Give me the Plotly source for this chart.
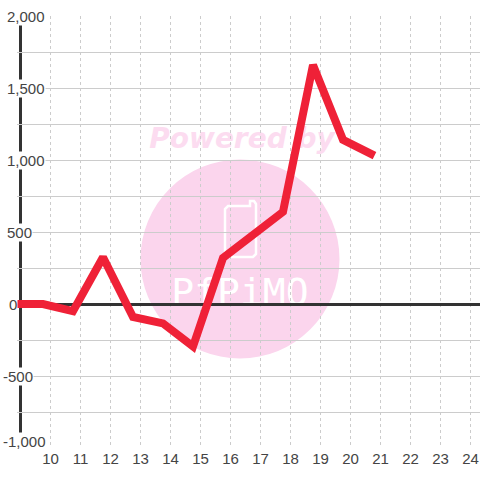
import plotly.graph_objects as go

hours = [8.75, 9.75, 10.75, 11.75, 12.75, 13.75, 14.75, 15.75, 16.75, 17.75, 18.75, 19.75, 20.8]
values = [0, 0, -50, 325, -90, -135, -295, 320, 480, 640, 1660, 1140, 1030]
x_ticks = list(range(10, 25))
y_ticks = [2000, 1500, 1000, 500, 0, -500, -1000]
y_labels = ["2,000", "1,500", "1,000", "500", "0", "-500", "-1,000"]
y_label_left = [5.5, 5.5, 5.5, 5.5, 7.5, 1.5, 1.5]
y_label_pos = [2000, 1500, 1000, 500, 0, -500, -955]

W, H = 480, 480
L, R, T, B = 17, 0, 16, 32
pw, ph = W - L - R, H - T - B
px = lambda v: (v - L) / pw
py = lambda v: (H - B - v) / ph

fig = go.Figure()
fig.add_trace(go.Scatter(x=hours, y=values, mode="lines",
                         line=dict(color="#ef2137", width=8), hoverinfo="skip"))

shapes = [
    dict(type="circle", xref="paper", yref="paper", layer="below",
         x0=px(140.5), x1=px(339.5), y0=py(358.5), y1=py(159.5),
         fillcolor="#fbd5ed", line=dict(width=0)),
    dict(type="path", xref="paper", yref="paper", layer="below",
         path=f"M {px(228)} {py(206)} L {px(250)} {py(206)} L {px(250)} {py(201)} L {px(254)} {py(201)} L {px(256)} {py(204)} "
              f"L {px(256)} {py(254)} L {px(253)} {py(257)} L {px(228)} {py(257)} L {px(225)} {py(254)} L {px(225)} {py(209)} Z",
         fillcolor="rgba(0,0,0,0)", line=dict(color="#ffffff", width=2.5)),
    dict(type="line", xref="paper", yref="paper", layer="between",
         x0=px(20.5), x1=px(20.5), y0=py(24), y1=py(436),
         line=dict(color="#333333", width=3)),
    dict(type="rect", xref="paper", yref="paper", layer="below",
         x0=px(149), x1=px(335), y0=py(151), y1=py(121),
         fillcolor="rgba(0,0,0,0)", line=dict(width=0),
         label=dict(text="<b><i>Powered by</i></b>", textposition="middle center",
                    font=dict(family="DejaVu Sans", size=28, color="#fcdcf0"))),
    dict(type="rect", xref="paper", yref="paper", layer="below",
         x0=px(170), x1=px(310), y0=py(306), y1=py(272),
         fillcolor="rgba(0,0,0,0)", line=dict(width=0),
         label=dict(text="PfPiMO", textposition="middle center",
                    font=dict(family="DejaVu Sans Mono", size=38, color="#ffffff"))),
]

ann = [dict(text=t, xref="paper", yref="y", x=px(l), y=v, xanchor="left", yanchor="middle",
            showarrow=False, bgcolor="#ffffff", borderpad=0,
            font=dict(family="Liberation Sans", size=15, color="#444444"))
       for t, l, v in zip(y_labels, y_label_left, y_label_pos)]

fig.update_layout(
    shapes=shapes, annotations=ann,
    width=W, height=H, margin=dict(l=L, r=R, t=T, b=B, pad=0),
    paper_bgcolor="#ffffff", plot_bgcolor="#ffffff", showlegend=False,
    xaxis=dict(range=[10 - (50.5 - L) / 30, 24 + (W - R - 470.5) / 30], tickvals=x_ticks,
               ticks="", showline=False, zeroline=False, showgrid=True,
               gridcolor="#cccccc", gridwidth=1, griddash="3px,3px",
               tickfont=dict(family="Liberation Sans", size=15, color="#444444")),
    yaxis=dict(range=[-1000, 2000], tickvals=y_ticks, showticklabels=False, ticks="",
               showline=False, showgrid=True, gridcolor="#cccccc", gridwidth=1,
               zeroline=True, zerolinecolor="#333333", zerolinewidth=3,
               minor=dict(dtick=250, showgrid=True, gridcolor="#cccccc", gridwidth=1, ticks="")),
)
fig.write_html("out.html", config=dict(displayModeBar=False),
               post_script="document.body.style.margin='0';document.documentElement.style.overflow='hidden';")
